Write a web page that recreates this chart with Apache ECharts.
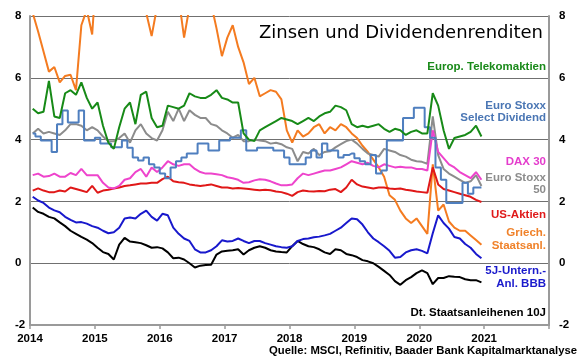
<!DOCTYPE html>
<html><head><meta charset="utf-8">
<script src="https://cdn.jsdelivr.net/npm/echarts@6/dist/echarts.min.js"></script>
<style>html,body{margin:0;padding:0;background:#fff}#c{width:580px;height:359px}</style>
</head><body><div id="c"></div>
<script>
// ---- data (monthly readings, Jan 2014 .. Dec 2020) ----
const years = [2014, 2015, 2016, 2017, 2018, 2019, 2020];
const xTickLabels = ['2014','2015','2016','2017','2018','2019','2020','2021'];
const yTickValues = [-2, 0, 2, 4, 6, 8];

const telekomDiv = [5.0,4.85,4.9,5.9,4.75,4.7,5.5,5.6,5.45,5.85,5.35,5.0,
 5.2,4.45,3.9,3.7,4.4,5.0,5.2,4.5,5.45,5.55,4.7,4.4,
 4.45,5.1,5.05,5.0,5.1,5.5,5.4,5.35,5.35,5.45,5.6,5.35,
 5.3,5.2,5.2,4.2,4.0,3.95,4.3,4.4,4.5,4.6,4.7,4.65,
 4.6,4.5,4.6,4.7,4.6,4.75,4.85,4.9,5.1,5.05,4.95,4.5,
 4.4,4.45,4.4,4.45,4.5,4.35,4.25,4.35,4.3,4.15,4.25,4.3,
 4.2,4.2,5.5,5.1,4.3,3.7,4.05,4.1,4.15,4.25,4.45,4.1];
const essdDiv = [4.2,4.1,3.97,3.97,3.6,4.5,4.94,4.55,4.55,4.94,3.97,3.97,
 4.06,3.87,3.87,3.75,3.75,3.97,3.74,3.42,3.32,3.42,3.2,3.1,
 2.9,2.75,3.1,3.3,3.42,3.55,3.55,3.87,3.87,3.65,3.65,3.97,
 3.97,4.06,4.06,4.3,3.65,3.65,3.74,3.74,3.74,3.65,3.65,3.42,
 3.2,3.2,3.2,3.42,3.65,3.42,3.87,3.65,3.65,3.42,3.5,3.55,
 3.4,3.3,3.2,3.5,2.9,3.0,3.97,3.97,3.97,4.7,4.7,5.03,
 5.03,4.4,4.06,3.1,2.7,1.95,1.95,1.95,2.6,2.25,2.45,2.45];
const es50Div = [4.2,4.35,4.2,4.25,4.2,4.15,4.3,4.5,4.5,4.45,4.3,4.4,
 4.3,4.1,3.95,3.95,4.05,4.2,3.9,4.3,4.5,4.2,4.05,3.97,
 4.3,4.9,4.6,5.0,4.6,4.95,4.8,4.7,4.7,4.5,4.45,4.3,
 4.2,4.06,4.15,3.95,3.95,4.0,3.97,3.95,3.87,3.9,3.85,3.75,
 3.7,3.3,3.6,3.55,3.7,3.5,3.6,3.62,3.75,3.85,3.95,4.0,
 3.87,3.7,3.55,3.5,3.45,3.7,3.65,3.6,3.5,3.45,3.35,3.3,
 3.28,3.22,4.75,3.5,3.05,2.9,2.8,2.7,2.6,2.65,2.85,2.5];
const daxDiv = [2.85,2.9,2.8,2.82,2.9,2.8,2.8,2.92,2.85,3.05,2.85,2.85,
 2.85,2.6,2.45,2.42,2.5,2.7,2.75,2.95,3.05,2.8,3.1,2.95,
 3.1,3.3,3.2,3.15,3.2,3.2,3.05,2.95,2.9,2.9,2.88,2.85,
 2.78,2.75,2.7,2.6,2.62,2.68,2.72,2.7,2.65,2.58,2.52,2.52,
 2.55,2.75,2.9,2.85,2.9,2.95,3.0,3.0,3.05,3.1,3.2,3.3,
 3.25,3.2,3.25,3.15,3.1,3.2,3.15,3.1,3.12,3.1,3.1,3.05,
 3.05,3.0,4.3,3.6,3.4,3.2,3.1,2.95,2.85,2.75,2.95,2.7];
const usDiv = [2.35,2.42,2.35,2.3,2.3,2.35,2.32,2.45,2.4,2.35,2.3,2.5,
 2.28,2.35,2.38,2.42,2.45,2.5,2.52,2.55,2.58,2.58,2.6,2.6,
 2.72,2.8,2.65,2.62,2.6,2.55,2.52,2.5,2.52,2.55,2.5,2.45,
 2.45,2.42,2.43,2.42,2.4,2.38,2.36,2.38,2.36,2.32,2.3,2.25,
 2.18,2.3,2.35,2.33,2.32,2.34,2.33,2.38,2.4,2.3,2.45,2.7,
 2.55,2.48,2.45,2.42,2.45,2.45,2.42,2.4,2.42,2.38,2.35,2.32,
 2.3,2.28,3.1,2.55,2.4,2.35,2.3,2.25,2.2,2.15,2.05,1.98];
const greek10y = [8.1,7.5,6.85,6.2,6.35,5.85,6.06,6.1,5.6,7.7,8.2,7.4,
 10.0,9.8,11.0,12.0,11.0,12.5,14.0,10.0,8.8,8.1,7.35,8.3,
 9.5,10.5,9.2,8.6,7.3,8.3,8.6,8.5,8.4,8.4,7.6,6.7,
 7.3,7.7,7.0,6.5,5.8,6.0,5.4,5.5,5.6,5.55,5.3,4.3,
 3.9,4.3,4.1,4.2,4.4,4.5,4.2,4.4,4.3,4.5,4.4,4.2,
 4.05,3.8,3.6,3.35,3.1,2.8,2.2,2.05,1.7,1.45,1.3,1.45,
 1.2,0.95,3.2,1.7,1.9,1.35,1.15,1.05,1.05,0.9,0.75,0.6];
const bbb5y = [2.15,2.03,1.95,1.8,1.71,1.65,1.5,1.4,1.32,1.33,1.28,1.2,
 1.15,1.05,0.97,1.0,1.15,1.45,1.48,1.45,1.6,1.7,1.5,1.38,
 1.6,1.55,1.15,0.95,0.8,0.72,0.45,0.35,0.35,0.42,0.55,0.74,
 0.7,0.72,0.8,0.72,0.65,0.72,0.72,0.65,0.6,0.55,0.52,0.5,
 0.55,0.72,0.78,0.8,0.84,0.86,0.9,0.95,1.05,1.15,1.3,1.45,
 1.42,1.25,1.0,0.8,0.68,0.55,0.4,0.18,0.2,0.35,0.42,0.45,
 0.4,0.32,0.97,1.55,1.3,1.12,0.85,0.8,0.62,0.5,0.3,0.16];
const bund10y = [1.8,1.66,1.6,1.5,1.45,1.32,1.2,1.05,0.95,0.85,0.76,0.65,
 0.5,0.36,0.3,0.12,0.6,0.82,0.7,0.68,0.65,0.58,0.5,0.52,
 0.48,0.35,0.16,0.18,0.12,0.0,-0.14,-0.08,-0.06,-0.05,0.28,0.38,
 0.4,0.42,0.45,0.28,0.42,0.5,0.55,0.5,0.42,0.38,0.36,0.35,
 0.55,0.72,0.62,0.55,0.52,0.45,0.35,0.3,0.45,0.42,0.3,0.26,
 0.2,0.1,0.06,0.0,-0.12,-0.25,-0.38,-0.58,-0.7,-0.55,-0.45,-0.32,
 -0.23,-0.32,-0.68,-0.48,-0.48,-0.42,-0.44,-0.45,-0.52,-0.55,-0.55,-0.62];

// ---- build ----
const months = [];
years.forEach(y => { for (let m = 1; m <= 12; m++) months.push(y + (m - 0.5) / 12); });
const pairs = arr => arr.map((v, i) => [months[i], v]);

const F = '"Liberation Sans", Arial, sans-serif';
function lineSeries(name, arr, color, extra) {
  return Object.assign({
    name, type: 'line', data: pairs(arr), showSymbol: false, symbol: 'none',
    lineStyle: { color, width: 2 }, itemStyle: { color }, silent: true, clip: true
  }, extra || {});
}
function label(text, y, color, lh) {
  return { type: 'text', x: 546, y, style: { text, fill: color, font: 'bold 11.5px ' + F,
    align: 'right', textAlign: 'right', verticalAlign: 'middle', textVerticalAlign: 'middle', lineHeight: lh || 13 } };
}

const chart = echarts.init(document.getElementById('c'), null, { renderer: 'canvas' });
const yAxisBase = {
  type: 'value', min: -2, max: 8, interval: 2,
  axisLine: { show: true, lineStyle: { color: '#9a9a9a', width: 2 } },
  axisTick: { show: false },
  axisLabel: { color: '#000', fontWeight: 'bold', fontSize: 11.5, fontFamily: F }
};
chart.setOption({
  animation: false,
  backgroundColor: '#fff',
  grid: { left: 30, right: 31, top: 16, bottom: 34, containLabel: false },
  xAxis: {
    type: 'value', min: 2014, max: 2022, interval: 1,
    axisLine: { show: true, onZero: false, lineStyle: { color: '#9a9a9a', width: 2 } },
    axisTick: { show: true, length: 4, lineStyle: { color: '#9a9a9a', width: 1.5 } },
    axisLabel: { color: '#000', fontWeight: 'bold', fontSize: 11.5, fontFamily: F, margin: 8,
      formatter: v => { const i = Math.round(v) - 2014; return xTickLabels[i] || ''; } },
    splitLine: { show: false }
  },
  yAxis: [
    Object.assign({}, yAxisBase, { position: 'left',
      axisLabel: Object.assign({}, yAxisBase.axisLabel, { align: 'left', margin: 15 }),
      splitLine: { show: true, lineStyle: { color: '#707070', width: 1 } } }),
    Object.assign({}, yAxisBase, { position: 'right',
      axisLabel: Object.assign({}, yAxisBase.axisLabel, { margin: 10 }),
      splitLine: { show: false } })
  ],
  series: [
    lineSeries('Dt. Staatsanleihen 10J', bund10y, '#000000'),
    lineSeries('5J-Untern.-Anl. BBB', bbb5y, '#1818cc'),
    lineSeries('Griech. Staatsanl.', greek10y, '#f47b20'),
    lineSeries('US-Aktien', usDiv, '#e01818'),
    lineSeries('Euro Stoxx 50', es50Div, '#8c8c8c'),
    lineSeries('DAX 30', daxDiv, '#ee44cc'),
    lineSeries('Euro Stoxx Select Dividend', essdDiv, '#4f7fbf', { step: 'middle' }),
    lineSeries('Europ. Telekomaktien', telekomDiv, '#178a17')
  ],
  graphic: [
    { type: 'text', x: 543, y: 33, style: { text: 'Zinsen und Dividendenrenditen', fill: '#000',
      font: 'normal 18px "DejaVu Sans", sans-serif', align: 'right', textAlign: 'right',
      verticalAlign: 'middle', textVerticalAlign: 'middle' } },
    label('Europ. Telekomaktien', 67, '#1a8a1a'),
    label('Euro Stoxx\nSelect Dividend', 112, '#4a76b4', 12.5),
    label('DAX 30', 162, '#e43ccc'),
    label('Euro Stoxx\n50', 184, '#8c8c8c', 12.5),
    label('US-Aktien', 215, '#e01a1a'),
    label('Griech.\nStaatsanl.', 239.5, '#f0822a'),
    label('5J-Untern.-\nAnl. BBB', 277.5, '#1a1acc'),
    label('Dt. Staatsanleihenen 10J', 313, '#000'),
    { type: 'text', x: 577, y: 351, style: { text: 'Quelle: MSCI, Refinitiv, Baader Bank Kapitalmarktanalyse',
      fill: '#000', font: 'bold 11.3px ' + F, align: 'right', textAlign: 'right',
      verticalAlign: 'middle', textVerticalAlign: 'middle' } }
  ]
});
</script>
</body></html>
